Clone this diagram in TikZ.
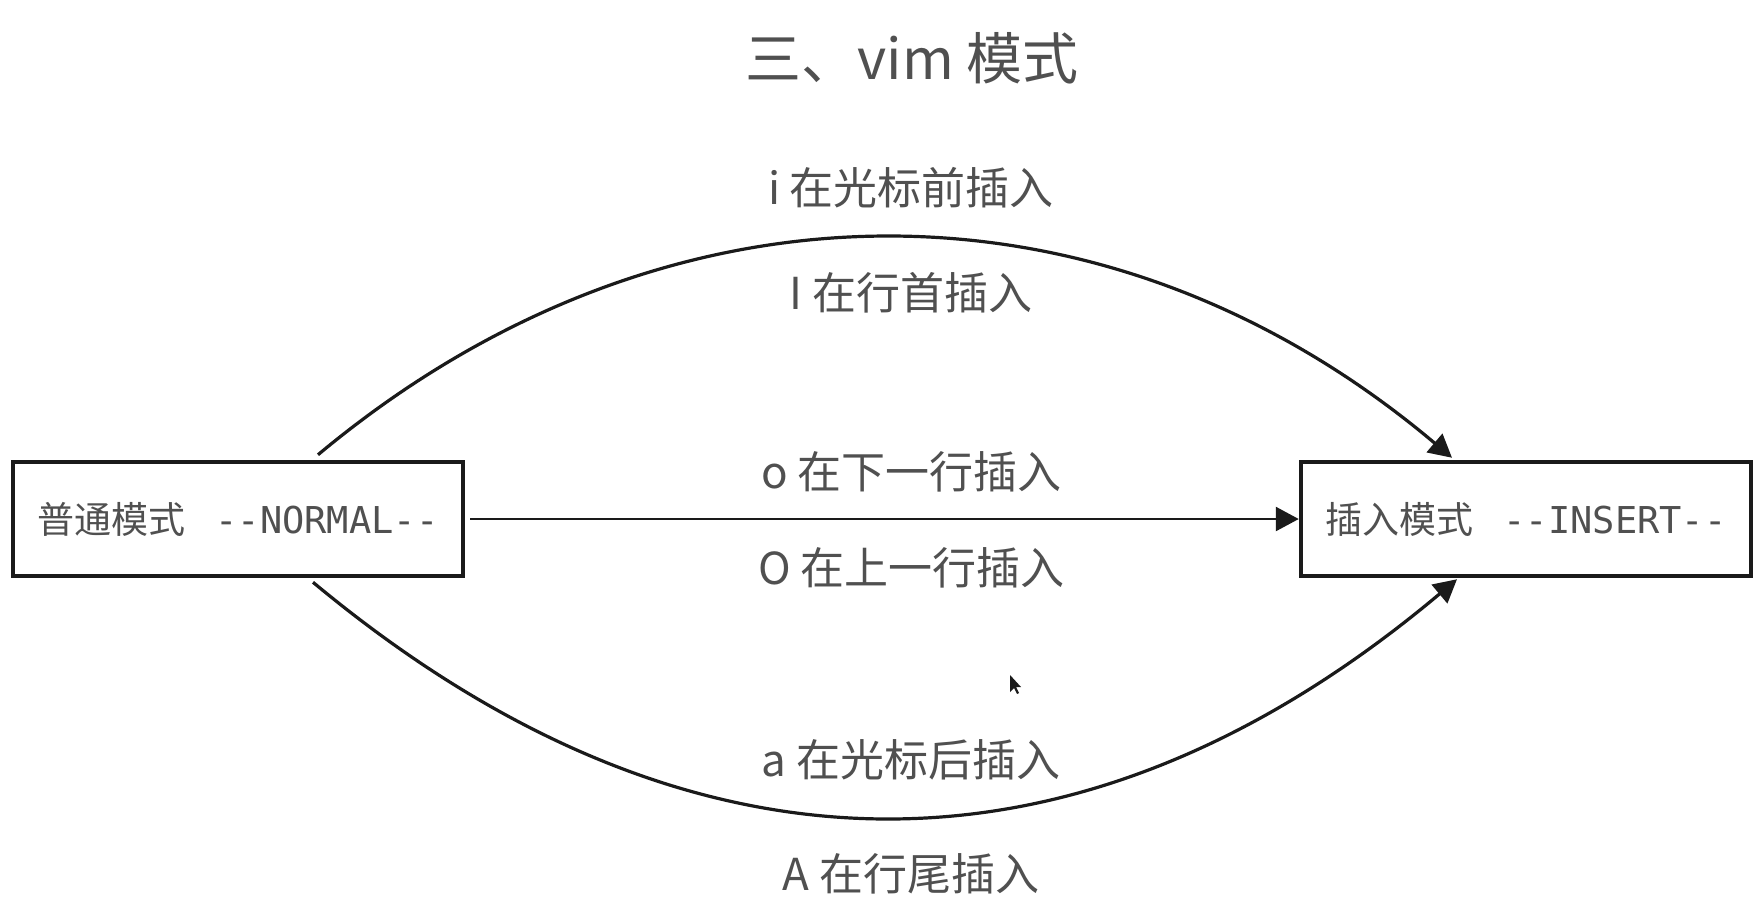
\documentclass[tikz,border=0pt]{standalone}
\usepackage{fontspec}
\setmainfont{Noto Sans CJK SC}
\setmonofont{DejaVu Sans Mono}
\usetikzlibrary{arrows.meta, positioning, calc}
\definecolor{textgray}{HTML}{505050}
\definecolor{pencil}{HTML}{1A1A1A}

\begin{document}
\begin{tikzpicture}[
         x=1pt, y=-1pt,
         >={Triangle[length=23pt,width=24pt]},
         mode/.style={draw=pencil, line width=4.5pt, minimum width=450pt, minimum height=114pt, inner sep=0pt, text=textgray, font=\fontsize{37}{44}\selectfont},
         link/.style={->, draw=pencil, line width=3.2pt},
         relation/.style={text=textgray, font=\fontsize{44}{52}\selectfont},
         heading/.style={text=textgray, font=\fontsize{56}{64}\selectfont}
      ]
         \path[fill=white] (0,0) rectangle (1760,922);
         \useasboundingbox (0,0) rectangle (1760,922);

         % Title
         \node[heading] (title) at (912,58) {三、vim 模式};

         % Nodes for modes
         \node[mode] (normal) at (238,519) {普通模式\hspace{30pt}\ttfamily --NORMAL--};
         \node[mode] (insert) at (1526,519) {插入模式\hspace{30pt}\ttfamily --INSERT--};

         % Transitions with labels above and below
         \draw[link] ([xshift=80pt,yshift=5pt]normal.north) .. controls (665,165) and (1105,165) ..
            node[relation, pos=0.5, xshift=26pt, yshift=50pt] {i 在光标前插入}
            node[relation, pos=0.5, xshift=26pt, yshift=-55pt] {I 在行首插入}
            ([xshift=-74pt,yshift=2pt]insert.north);
         \draw[link, line width=2.6pt] ([xshift=5pt]normal.east) --
            node[relation, pos=0.5, xshift=27pt, yshift=47pt] {o 在下一行插入}
            node[relation, pos=0.5, xshift=27pt, yshift=-49pt] {O 在上一行插入}
            (insert.west);
         \draw[link] ([xshift=75pt,yshift=-4pt]normal.south) .. controls (690,896) and (1080,896) ..
            node[relation, pos=0.5, xshift=26pt, yshift=57pt] {a 在光标后插入}
            node[relation, pos=0.5, xshift=26pt, yshift=-57pt] {A 在行尾插入}
            ([xshift=-69pt,yshift=-1pt]insert.south);

         % Mouse pointer
         \fill[pencil] (1010,675) -- (1010,692) -- (1014,688) -- (1017,694) -- (1019,693) -- (1016,687) -- (1021,687) -- cycle;
      \end{tikzpicture}
\end{document}
